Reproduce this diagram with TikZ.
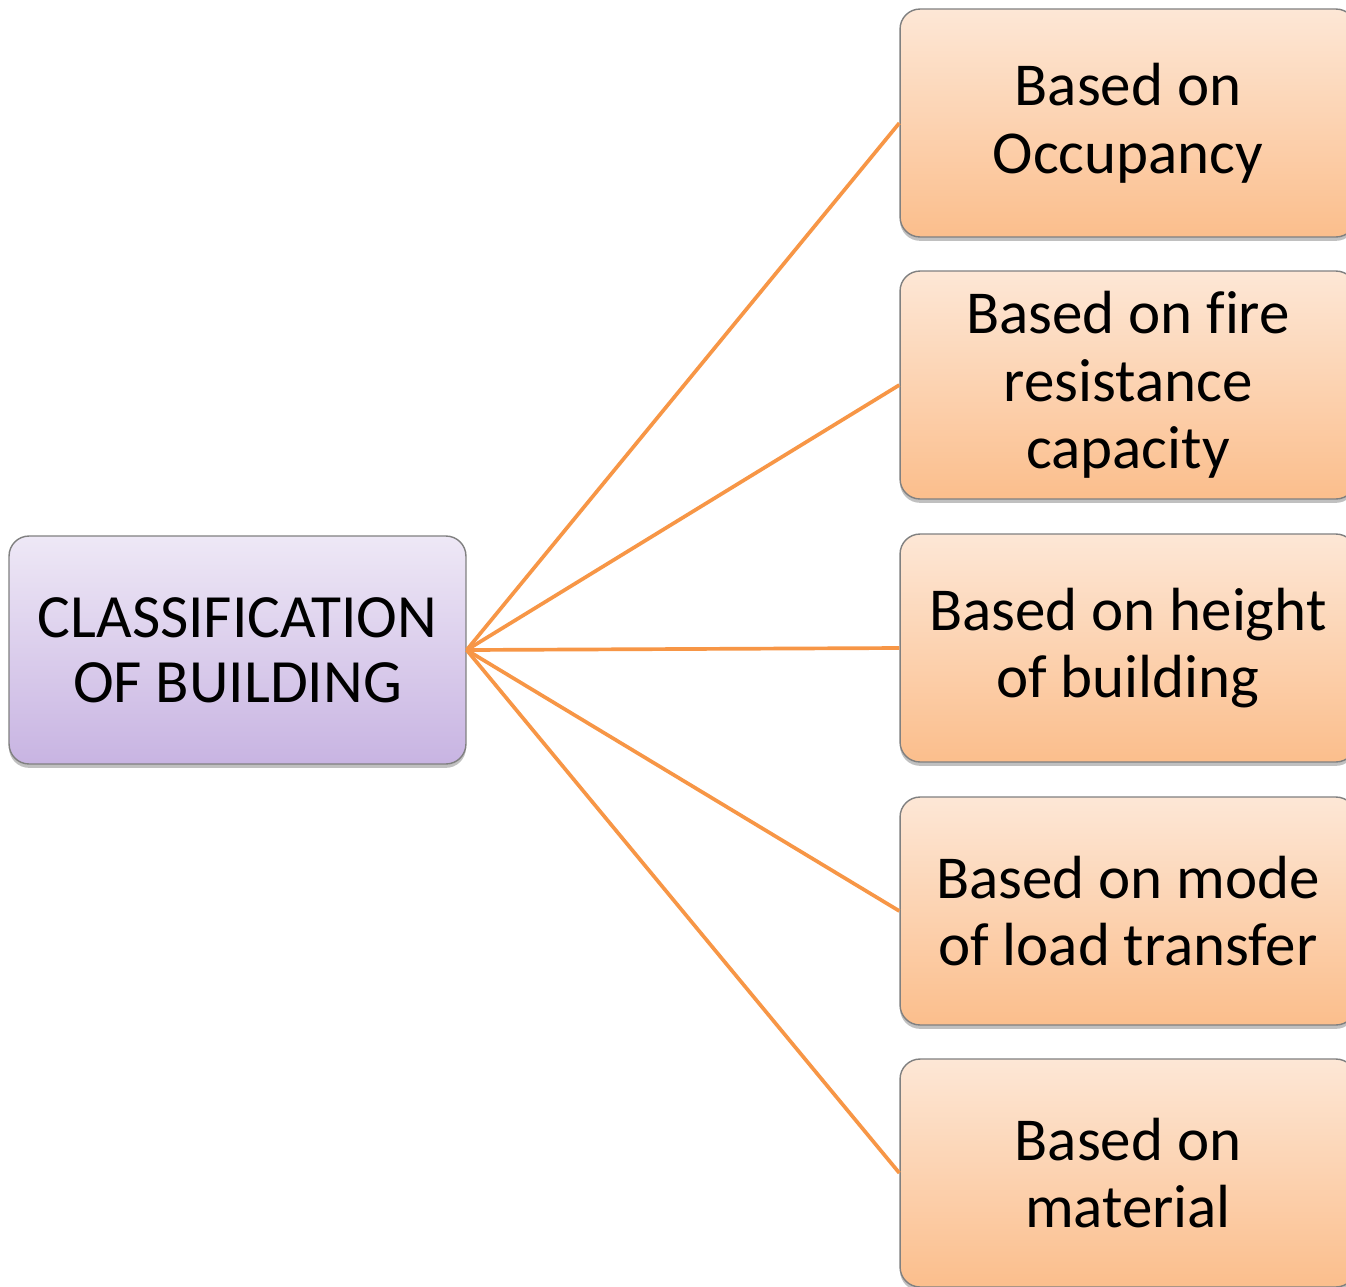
\documentclass[tikz,border=0pt]{standalone}
\usepackage{fontspec}
\setmainfont[Ligatures=NoCommon]{Carlito}
\usetikzlibrary{shadows}
\definecolor{conncol}{RGB}{247,150,70}
\definecolor{ortop}{RGB}{253,231,214}
\definecolor{orbot}{RGB}{251,190,140}
\definecolor{putop}{RGB}{238,232,246}
\definecolor{pubot}{RGB}{200,180,226}
\definecolor{edgegray}{RGB}{128,128,128}
\tikzset{
  basebox/.style={draw=edgegray, line width=0.8pt, rounded corners=0.4cm, align=center,
    inner sep=0pt, text=black,
    drop shadow={shadow xshift=0pt, shadow yshift=-2.2pt, opacity=0.35, fill=black!70}},
  leafbox/.style={basebox, minimum width=9.12cm, minimum height=4.56cm,
    top color=ortop, bottom color=orbot, font=\fontsize{34.7pt}{38.5pt}\selectfont},
  rootbox/.style={basebox, minimum width=9.14cm, minimum height=4.56cm,
    top color=putop, bottom color=pubot, font=\fontsize{35pt}{37pt}\selectfont},
  conn/.style={draw=conncol, line width=2.1pt}
}
\begin{document}
\begin{tikzpicture}[x=0.02cm, y=-0.02cm]
\clip (0,0) rectangle (1346,1286);
\fill[white] (0,0) rectangle (1346,1286);
\node[rootbox] (root) at (237.5,650) {CLASSIFICATION\\OF BUILDING};
\node[leafbox] (b1) at (1128,123) {Based on\\Occupancy};
\node[leafbox] (b2) at (1128,385) {Based on fire\\resistance\\capacity};
\node[leafbox] (b3) at (1128,648) {Based on height\\of building};
\node[leafbox] (b4) at (1128,911) {Based on mode\\of load transfer};
\node[leafbox] (b5) at (1128,1173) {Based on\\material};
\draw[conn] (root.east) -- (b1.west);
\draw[conn] (root.east) -- (b2.west);
\draw[conn] (root.east) -- (b3.west);
\draw[conn] (root.east) -- (b4.west);
\draw[conn] (root.east) -- (b5.west);
\end{tikzpicture}
\end{document}
